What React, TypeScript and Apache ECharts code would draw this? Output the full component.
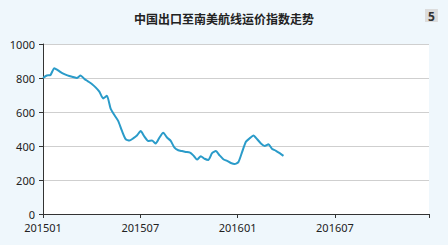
import React, { useEffect, useRef } from "react";
import * as echarts from "echarts";

const title = "中国出口至南美航线运价指数走势";
const pageNo = "5";
const startYear = 2015;
const xTickMonths = [0, 6, 12, 18];
const yTicks = [0, 200, 400, 600, 800, 1000];
// weekly index values starting first week of 2015-01
const weeklyValues = [
  800, 815, 818, 858, 845, 830, 820, 812, 806, 800, 815, 795, 780, 765, 745, 720,
  680, 695, 620, 582, 548, 490, 440, 432, 445, 462, 488, 455, 430, 432, 415, 450,
  478, 450, 430, 390, 375, 370, 365, 362, 345, 320, 340, 325, 318, 358, 370, 345,
  322, 312, 300, 294, 305, 365, 425, 445, 462, 440, 415, 400, 410, 382, 372, 358, 342,
];

export default function App() {
  const ref = useRef<HTMLDivElement>(null);
  useEffect(() => {
    if (!ref.current) return;
    const chart = echarts.init(ref.current, undefined, { renderer: "svg" });
    const data = weeklyValues.map((v, i) => [(i * 12) / 51.8, v]);
    chart.setOption({
      animation: false,
      backgroundColor: "#eff7fc",
      title: {
        text: title,
        left: "center",
        top: 7,
        textStyle: { fontSize: 12, fontWeight: "bold", color: "#222", fontFamily: "Noto Sans CJK SC" },
      },
      graphic: [
        {
          type: "text",
          left: 425,
          top: 9,
          style: {
            text: pageNo,
            fontSize: 12,
            fontWeight: "bold",
            fill: "#333",
            backgroundColor: "#dcdcdc",
            padding: [1, 3, 0, 3],
            fontFamily: "Noto Sans",
          },
        },
      ],
      grid: {
        left: 43,
        right: 19,
        top: 44,
        bottom: 31,
        show: true,
        backgroundColor: "#ffffff",
        borderWidth: 0,
      },
      xAxis: {
        type: "value",
        min: 0,
        max: 23.8,
        interval: 6,
        axisLine: { show: true, lineStyle: { color: "#333", width: 1 } },
        axisTick: { show: true, length: 4, lineStyle: { color: "#333" } },
        splitLine: { show: false },
        axisLabel: {
          color: "#222",
          fontSize: 11,
          margin: 8,
          fontFamily: "Noto Sans",
          formatter: (v: number) => {
            const m = Math.round(v);
            if (!xTickMonths.includes(m) || Math.abs(v - m) > 0.01) return "";
            const y = startYear + Math.floor(m / 12);
            const mm = (m % 12) + 1;
            return `${y}${mm < 10 ? "0" + mm : mm}`;
          },
        },
      },
      yAxis: {
        type: "value",
        min: yTicks[0],
        max: yTicks[yTicks.length - 1],
        interval: 200,
        axisLine: { show: true, lineStyle: { color: "#333", width: 1 } },
        axisTick: { show: true, length: 4, lineStyle: { color: "#333" } },
        splitLine: { show: true, lineStyle: { color: "#cfcfcf", width: 1 } },
        axisLabel: {
          color: "#222",
          fontSize: 11,
          margin: 8,
          fontFamily: "Noto Sans",
          formatter: (v: number) => String(v),
        },
      },
      series: [
        {
          type: "line",
          data,
          showSymbol: false,
          smooth: 0.2,
          lineStyle: { color: "#2a9bc9", width: 2 },
        },
      ],
    });
    return () => chart.dispose();
  }, []);
  return <div ref={ref} style={{ width: 448, height: 245, position: "absolute", left: 0, top: 0 }} />;
}
